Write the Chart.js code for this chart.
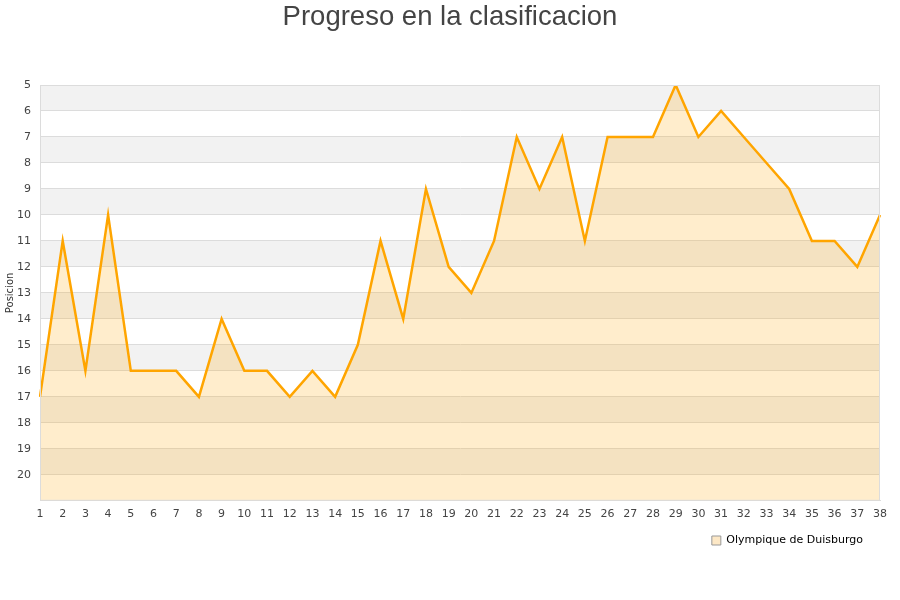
<!DOCTYPE html>
<html>
<head>
<meta charset="utf-8">
<script src="https://cdn.jsdelivr.net/npm/chart.js@4/dist/chart.umd.min.js"></script>
<style>
  body { margin: 0; background: #fff; }
  #wrap { width: 900px; height: 600px; }
</style>
</head>
<body>
<div id="wrap"><canvas id="chart"></canvas></div>
<script>
const jornadas = Array.from({ length: 38 }, (_, i) => String(i + 1));
const posiciones = [17, 11, 16, 10, 16, 16, 16, 17, 14, 16, 16, 17, 16, 17, 15, 11, 14, 9, 12, 13,
  11, 7, 9, 7, 11, 7, 7, 7, 5, 7, 6, 7, 8, 9, 11, 11, 12, 10];
const equipo = "Olympique de Duisburgo";
const posMin = 5;
const posMax = 21;
// grey bands start at these positions, one unit tall
const bandas = [5, 7, 9, 11, 13, 15, 17, 19];

const bandsPlugin = {
  id: "bands",
  afterLayout(chart) {
    // title centred on the whole canvas, legend pulled in a bit from the right
    chart.titleBlock.left += 10;
    chart.titleBlock.right += 10;
    chart.legend.left -= 7;
    chart.legend.right -= 7;
  },
  beforeDraw(chart) {
    const { ctx, chartArea, scales } = chart;
    ctx.save();
    ctx.fillStyle = "#f2f2f2";
    bandas.forEach((b) => {
      const y1 = scales.y.getPixelForValue(b);
      const y2 = scales.y.getPixelForValue(b + 1);
      ctx.fillRect(chartArea.left, y1, chartArea.right - chartArea.left, y2 - y1);
    });
    ctx.restore();
  },
  afterDatasetsDraw(chart) {
    const { ctx, chartArea } = chart;
    ctx.save();
    ctx.strokeStyle = "#dcdcdc";
    ctx.lineWidth = 1;
    ctx.strokeRect(chartArea.left + 0.5, chartArea.top + 0.5,
      chartArea.right - chartArea.left - 1, chartArea.bottom - chartArea.top - 1);
    ctx.restore();
  },
};

new Chart(document.getElementById("chart"), {
  type: "line",
  data: {
    labels: jornadas,
    datasets: [
      {
        label: equipo,
        data: posiciones,
        borderColor: "#ffa500",
        backgroundColor: "rgba(255,165,0,0.2)",
        borderWidth: 2.5,
        pointRadius: 0,
        tension: 0,
        fill: { value: posMax },
      },
    ],
  },
  options: {
    responsive: true,
    maintainAspectRatio: false,
    animation: false,
    layout: { padding: { left: 0, right: 20, top: 0, bottom: 44 } },
    plugins: {
      title: {
        display: true,
        text: "Progreso en la clasificacion",
        color: "#444",
        font: { family: "Liberation Sans", size: 27.5, weight: "normal" },
        padding: { top: 1, bottom: 51 },
      },
      legend: {
        position: "bottom",
        align: "end",
        labels: {
          color: "#222",
          font: { family: "DejaVu Sans", size: 11 },
          boxWidth: 9,
          boxHeight: 9,
          padding: 10,
          generateLabels(chart) {
            return chart.data.datasets.map((ds, i) => ({
              text: ds.label,
              fillStyle: "#fde8c6",
              strokeStyle: "#999",
              lineWidth: 1,
              datasetIndex: i,
            }));
          },
        },
      },
      tooltip: { enabled: false },
    },
    scales: {
      x: {
        offset: false,
        grid: { display: false, tickLength: 7 },
        border: { color: "#dcdcdc" },
        afterFit(scale) { scale.height += 4; },
        ticks: {
          color: "#444",
          font: { family: "DejaVu Sans", size: 11 },
          maxRotation: 0,
          autoSkip: false,
          padding: 0,
        },
      },
      y: {
        reverse: true,
        min: posMin,
        max: posMax,
        afterFit(scale) { scale.width = 40; },
        title: {
          display: true,
          text: "Posicion",
          color: "#333",
          font: { family: "DejaVu Sans", size: 10 },
          padding: { top: 4, bottom: 0 },
        },
        grid: { color: "#dcdcdc", drawTicks: false },
        border: { color: "#dcdcdc" },
        ticks: {
          stepSize: 1,
          color: "#444",
          font: { family: "DejaVu Sans", size: 11 },
          padding: 9,
          callback: (v) => (v === posMax ? "" : v),
        },
      },
    },
  },
  plugins: [bandsPlugin],
});
</script>
</body>
</html>
